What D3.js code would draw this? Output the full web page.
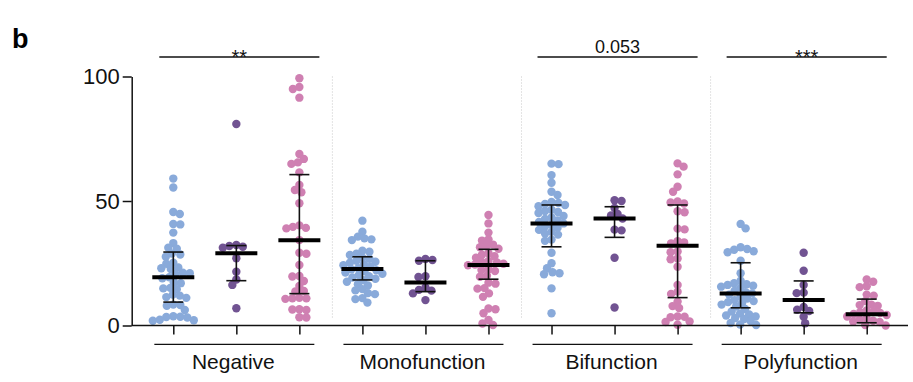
<!DOCTYPE html>
<html>
<head>
<meta charset="utf-8">
<script src="https://cdn.jsdelivr.net/npm/d3@7"></script>
<style>
  body { margin: 0; background: #fff; }
  text { font-family: "Liberation Sans", Arial, sans-serif; }
</style>
</head>
<body>
<div id="chart"></div>
<script>
// categories
var groups = ["Negative", "Monofunction", "Bifunction", "Polyfunction"];
var subColors = ["#89aada", "#715392", "#cf80b2"];
var sigLabels = ["**", null, "0.053", "***"];
var yTicks = [0, 50, 100];

// one array of values per column (3 columns per group)
var negBlue = [59.0, 55.4, 45.6, 44.8, 40.8, 40.6, 37.3, 33.1, 31.2, 30.8, 28.9, 28.5, 27.6, 25.2, 24.8, 23.3, 23.0, 22.7, 21.2, 21.0, 20.7, 19.4, 19.0, 17.4, 17.0, 15.1, 14.9, 14.6, 12.4, 12.0, 11.4, 11.1, 8.4, 8.2, 7.9, 6.2, 3.7, 3.5, 3.4, 3.2, 2.3, 2.1, 1.9];
var negPurple = [80.9, 32.3, 31.9, 31.6, 31.2, 27.0, 21.6, 18.5, 16.3, 6.9];
var negPink = [99.3, 95.8, 95.0, 91.5, 68.9, 66.9, 65.5, 64.9, 61.5, 56.4, 54.4, 53.5, 49.1, 40.2, 39.6, 39.2, 39.0, 34.3, 29.2, 28.8, 24.3, 19.9, 19.7, 17.9, 15.9, 13.9, 13.7, 11.1, 10.9, 10.9, 10.7, 6.5, 6.4, 6.2, 3.3, 3.2];
var monoBlue = [42.1, 37.7, 35.7, 35.0, 34.6, 34.3, 30.0, 29.6, 28.8, 28.3, 27.2, 26.8, 26.0, 25.6, 25.2, 24.6, 24.2, 23.6, 23.0, 22.6, 22.2, 21.8, 21.3, 20.8, 20.3, 19.8, 19.3, 18.8, 18.2, 17.6, 16.6, 16.1, 14.6, 14.1, 13.0, 12.6, 11.0, 10.6, 9.2];
var monoPurple = [26.7, 26.3, 26.0, 19.8, 19.5, 15.3, 14.3, 14.0, 12.9, 10.2];
var monoPink = [44.4, 41.0, 37.3, 34.6, 34.1, 32.5, 31.9, 31.4, 30.8, 29.0, 28.4, 27.8, 27.2, 25.9, 25.6, 25.3, 24.8, 24.5, 24.2, 22.6, 22.3, 21.9, 20.0, 19.6, 17.2, 16.8, 15.0, 14.8, 12.9, 11.5, 6.8, 6.5, 4.9, 2.2, 0.8, 0.2];
var biBlue = [65.0, 64.8, 60.4, 57.3, 53.7, 52.4, 49.6, 49.2, 48.8, 48.4, 47.9, 46.5, 46.0, 45.6, 45.2, 44.0, 43.4, 42.8, 42.2, 41.6, 41.0, 40.4, 39.8, 39.2, 38.4, 37.6, 36.9, 36.5, 34.5, 34.0, 29.2, 25.0, 23.0, 21.4, 21.0, 20.6, 14.9, 4.9];
var biPurple = [50.3, 50.0, 47.2, 44.8, 44.2, 43.0, 38.5, 38.2, 27.2, 7.2];
var biPink = [65.1, 63.8, 60.7, 55.7, 53.7, 49.8, 49.4, 49.0, 45.9, 45.5, 38.9, 38.6, 33.9, 33.4, 33.0, 29.7, 29.4, 26.9, 26.6, 23.6, 16.3, 13.6, 12.7, 9.6, 7.8, 7.0, 3.6, 3.5, 3.3, 1.6, 1.4, 0.3];
var polyBlue = [40.8, 39.0, 31.4, 30.7, 30.4, 29.8, 29.4, 26.0, 21.0, 18.0, 17.0, 16.6, 16.3, 16.0, 15.6, 15.2, 14.0, 13.4, 12.9, 12.4, 11.6, 10.8, 10.2, 9.8, 9.4, 9.0, 8.4, 7.6, 6.6, 5.6, 4.8, 4.4, 4.0, 3.6, 3.0, 2.6, 1.8, 1.0, 0.4, 0.2];
var polyPurple = [29.2, 22.0, 16.3, 13.2, 13.0, 7.4, 6.3, 5.8, 3.5, 0.9];
var polyPink = [18.5, 17.6, 15.8, 15.4, 12.4, 12.0, 9.8, 8.4, 8.2, 7.9, 6.0, 5.6, 5.3, 5.0, 4.6, 4.2, 3.6, 2.8, 2.4, 1.9, 1.6, 1.4, 0.2, 0.0];

// median and interquartile range per column
var medians = [19.4, 29.0, 34.2, 22.7, 17.3, 24.3, 41.0, 43.0, 32.0, 12.9, 10.2, 4.5];
var lowers  = [9.4, 18.0, 12.8, 18.3, 13.6, 18.6, 31.6, 35.4, 11.2, 7.1, 5.1, 1.1];
var uppers  = [29.5, 32.1, 60.6, 27.6, 26.0, 30.6, 48.4, 47.7, 48.4, 25.2, 17.9, 10.6];

var columns = [negBlue, negPurple, negPink, monoBlue, monoPurple, monoPink,
               biBlue, biPurple, biPink, polyBlue, polyPurple, polyPink];

var width = 913, height = 382;

var svg = d3.select("#chart")
    .append("svg")
    .attr("width", width)
    .attr("height", height);

var x = d3.scalePoint()
    .domain(d3.range(columns.length))
    .range([173.3, 866.7]);

var y = d3.scaleLinear()
    .domain([0, 100])
    .range([325.5, 76.5]);

var axisLeftX = 131.7, axisRightX = 908;

// dotted separators between groups
for (var g = 0; g < groups.length - 1; g++) {
    var sx = (x(g * 3 + 2) + x(g * 3 + 3)) / 2 + 1.5;
    svg.append("line")
        .attr("x1", sx).attr("x2", sx)
        .attr("y1", y(100)).attr("y2", y(0) - 8)
        .style("stroke", "#c8c8c8")
        .style("stroke-width", 1)
        .style("stroke-dasharray", "1,2");
}

// beeswarm: place each dot at the smallest horizontal offset that doesn't collide
function swarm(values, cx, minDist) {
    var pts = values.map(function (v) { return { v: v, y: y(v) }; })
        .sort(function (a, b) { return a.y - b.y; });
    var placed = [];
    pts.forEach(function (p, i) {
        var dx = 0, found = false;
        while (!found) {
            var cands = dx === 0 ? [0] : (i % 2 ? [dx, -dx] : [-dx, dx]);
            for (var c = 0; c < cands.length; c++) {
                var ok = placed.every(function (q) {
                    var ddx = q.x - (cx + cands[c]), ddy = q.y - p.y;
                    return ddx * ddx + ddy * ddy >= minDist * minDist;
                });
                if (ok) { p.x = cx + cands[c]; found = true; break; }
            }
            dx += 0.5;
        }
        placed.push(p);
    });
    return placed;
}

columns.forEach(function (vals, i) {
    var pts = swarm(vals, x(i), 6.6);
    svg.append("g")
        .selectAll("circle")
        .data(pts)
        .enter()
        .append("circle")
        .attr("cx", function (d) { return d.x; })
        .attr("cy", function (d) { return d.y; })
        .attr("r", 4.2)
        .style("fill", subColors[i % 3]);
});

// median + IQR bars
var bars = svg.append("g");
columns.forEach(function (vals, i) {
    var cx = x(i);
    bars.append("line")
        .attr("x1", cx).attr("x2", cx)
        .attr("y1", y(lowers[i])).attr("y2", y(uppers[i]))
        .style("stroke", "#111").style("stroke-width", 1.6);
    [lowers[i], uppers[i]].forEach(function (v) {
        bars.append("line")
            .attr("x1", cx - 10).attr("x2", cx + 10)
            .attr("y1", y(v)).attr("y2", y(v))
            .style("stroke", "#111").style("stroke-width", 1.6);
    });
    bars.append("line")
        .attr("x1", cx - 21).attr("x2", cx + 21)
        .attr("y1", y(medians[i])).attr("y2", y(medians[i]))
        .style("stroke", "#000").style("stroke-width", 4);
});

// y axis
var yAxis = svg.append("g")
    .attr("transform", "translate(" + axisLeftX + ",0)")
    .call(d3.axisLeft(y).tickValues(yTicks).tickSize(9).tickSizeOuter(0).tickPadding(3));
yAxis.selectAll("text").style("font-size", "22px").style("fill", "#111");
yAxis.selectAll("path, line").style("stroke", "#111").style("stroke-width", 1.5);

// x axis: baseline line plus ticks under each column
svg.append("line")
    .attr("x1", axisLeftX).attr("x2", axisRightX)
    .attr("y1", y(0)).attr("y2", y(0))
    .style("stroke", "#111").style("stroke-width", 1.5);
var xAxis = svg.append("g")
    .attr("transform", "translate(0," + y(0) + ")")
    .call(d3.axisBottom(x).tickSize(9).tickFormat(""));
xAxis.select(".domain").remove();
xAxis.selectAll("line").style("stroke", "#111").style("stroke-width", 1.5);

// group brackets and labels under the axis
groups.forEach(function (name, g) {
    var c = x(g * 3 + 1) - 2;
    svg.append("line")
        .attr("x1", c - 80).attr("x2", c + 80)
        .attr("y1", 344.3).attr("y2", 344.3)
        .style("stroke", "#111").style("stroke-width", 1.3);
    svg.append("text")
        .attr("x", c - 1).attr("y", 368.5)
        .attr("text-anchor", "middle")
        .style("font-size", "21px")
        .style("fill", "#111")
        .text(name);
});

// significance bars on top
sigLabels.forEach(function (lab, g) {
    if (!lab) return;
    var x1 = x(g * 3) - 14, x2 = x(g * 3 + 2) + 20;
    svg.append("line")
        .attr("x1", x1).attr("x2", x2)
        .attr("y1", 57).attr("y2", 57)
        .style("stroke", "#111").style("stroke-width", 1.3);
    var isStar = lab.indexOf("*") >= 0;
    svg.append("text")
        .attr("x", (x1 + x2) / 2).attr("y", isStar ? 63.5 : 53.3)
        .attr("text-anchor", "middle")
        .style("font-size", isStar ? "20px" : "18px")
        .style("fill", "#111")
        .text(lab);
});

// panel letter
svg.append("text")
    .attr("x", 12).attr("y", 48)
    .style("font-size", "27px")
    .style("font-weight", "bold")
    .text("b");
</script>
</body>
</html>
